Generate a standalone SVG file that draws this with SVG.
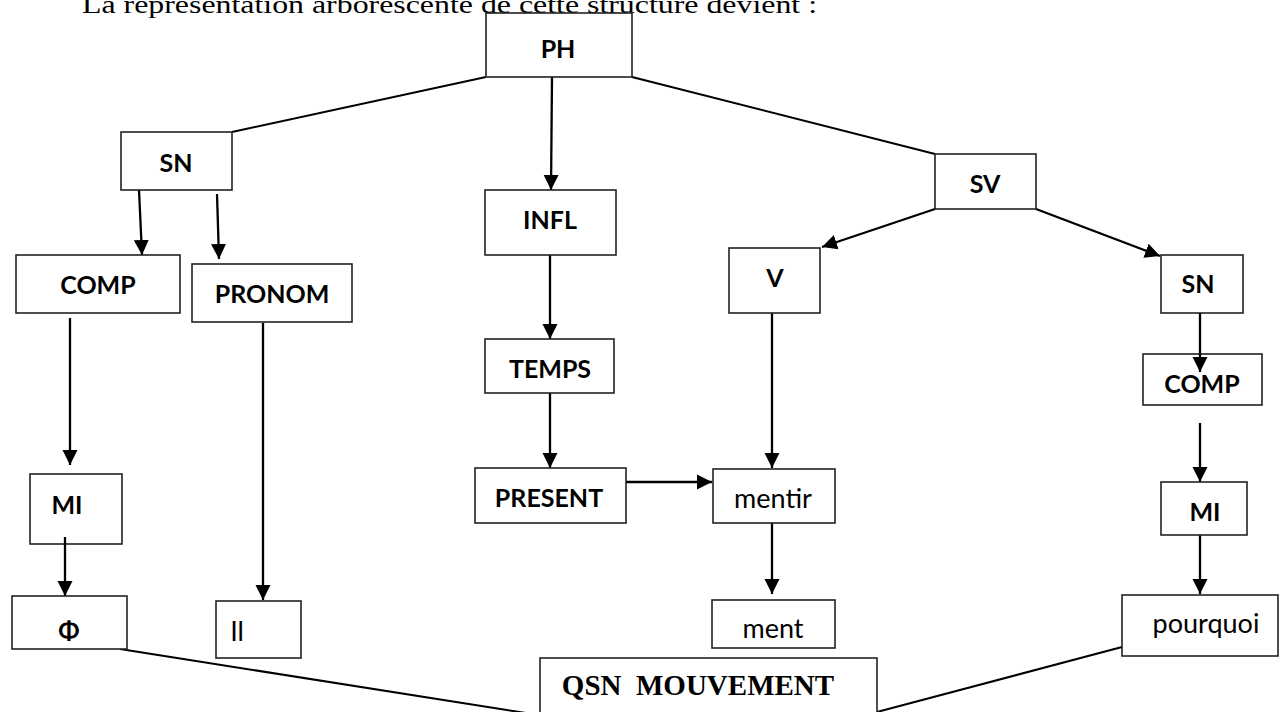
<svg xmlns="http://www.w3.org/2000/svg" width="1280" height="712" viewBox="0 0 1280 712">
<style>
.box{fill:#fff;stroke:#222;stroke-width:1.6}
.lbl{font-family:Lato,"Liberation Sans",sans-serif;font-weight:bold;font-size:25px;fill:#000;text-anchor:middle}
.reg{font-family:Lato,"Liberation Sans",sans-serif;font-size:27px;fill:#000;text-anchor:middle}
.ln{stroke:#000;stroke-width:2;fill:none}
.arr{stroke:#000;stroke-width:2.3;fill:none;marker-end:url(#ah)}
</style>
<defs>
<marker id="ah" markerUnits="userSpaceOnUse" markerWidth="16" markerHeight="16" viewBox="0 0 16 16" refX="15" refY="8" orient="auto">
<path d="M0,0.5 L15,8 L0,15.5 Z" fill="#000"/>
</marker>
</defs>
<rect width="1280" height="712" fill="#fff"/>
<text x="82" y="13" font-family="'Liberation Serif',serif" font-size="26" textLength="735" lengthAdjust="spacingAndGlyphs">La représentation arborescente de cette structure devient :</text>
<g id="connectors">
<line class="ln" x1="486" y1="77" x2="232" y2="132"/>
<line class="arr" x1="552" y1="77" x2="551" y2="190"/>
<line class="ln" x1="632" y1="77" x2="935" y2="154"/>
<line class="arr" x1="139" y1="190" x2="142" y2="255"/>
<line class="arr" x1="217" y1="194" x2="219" y2="259"/>
<line class="arr" x1="70" y1="318" x2="70" y2="465"/>
<line class="arr" x1="550" y1="255" x2="550" y2="339"/>
<line class="arr" x1="550" y1="393" x2="550" y2="468"/>
<line class="arr" x1="626" y1="482" x2="712" y2="482"/>
<line class="arr" x1="935" y1="209" x2="822" y2="247"/>
<line class="arr" x1="772" y1="313" x2="772" y2="468"/>
<line class="arr" x1="772" y1="523" x2="772" y2="594"/>
<line class="arr" x1="1036" y1="209" x2="1160" y2="256"/>
<line class="arr" x1="1200" y1="423" x2="1200" y2="482"/>
<line class="arr" x1="1200" y1="535" x2="1200" y2="594"/>
<line class="arr" x1="263" y1="323" x2="263" y2="600"/>
<line class="ln" x1="120" y1="649" x2="545" y2="716"/>
<line class="ln" x1="1122" y1="647" x2="877" y2="712"/>
</g>
<g id="PH"><rect class="box" x="486" y="13" width="146" height="64"/><text class="lbl" x="558" y="58" font-size="32">PH</text></g>
<g id="SN"><rect class="box" x="121" y="132" width="111" height="58"/><text class="lbl" x="176" y="172">SN</text></g>
<g id="INFL"><rect class="box" x="485" y="190" width="131" height="65"/><text class="lbl" x="550" y="229">INFL</text></g>
<g id="SV"><rect class="box" x="935" y="154" width="101" height="55"/><text class="lbl" x="985" y="193">SV</text></g>
<g id="COMP"><rect class="box" x="16" y="255" width="164" height="58"/><text class="lbl" x="98" y="294">COMP</text></g>
<g id="PRONOM"><rect class="box" x="192" y="264" width="160" height="58"/><text class="lbl" x="272" y="303">PRONOM</text></g>
<g id="V"><rect class="box" x="729" y="248" width="91" height="65"/><text class="lbl" x="775" y="287">V</text></g>
<g id="SN2"><rect class="box" x="1161" y="255" width="82" height="58"/><text class="lbl" x="1198" y="293">SN</text></g>
<g id="TEMPS"><rect class="box" x="485" y="339" width="129" height="54"/><text class="lbl" x="550" y="378">TEMPS</text></g>
<g id="COMP2"><rect class="box" x="1143" y="354" width="119" height="51"/><text class="lbl" x="1202" y="393">COMP</text></g>
<line class="arr" x1="1200" y1="313" x2="1200" y2="372"/>
<g id="MI"><rect class="box" x="30" y="474" width="92" height="70"/><text class="lbl" x="67" y="514">MI</text></g>
<line class="arr" x1="65" y1="537" x2="65" y2="596"/>
<g id="PRESENT"><rect class="box" x="475" y="468" width="151" height="55"/><text class="lbl" x="549" y="507">PRESENT</text></g>
<g id="mentir"><rect class="box" x="713" y="469" width="122" height="54"/><text class="reg" x="773" y="508">mentir</text></g>
<g id="MI2"><rect class="box" x="1161" y="482" width="86" height="53"/><text class="lbl" x="1205" y="521">MI</text></g>
<g id="PHI"><rect class="box" x="12" y="596" width="115" height="53"/><text class="lbl" x="69" y="640" font-family="'Noto Sans',sans-serif" font-size="26">Φ</text></g>
<g id="Il"><rect class="box" x="216" y="601" width="85" height="57"/><text class="reg" x="237" y="641" text-anchor="start">Il</text></g>
<g id="ment"><rect class="box" x="712" y="600" width="123" height="48"/><text class="reg" x="773" y="638">ment</text></g>
<g id="pourquoi"><rect class="box" x="1122" y="595" width="156" height="61"/><text class="reg" x="1206" y="633">pourquoi</text></g>
<g id="QSN"><rect class="box" x="540" y="658" width="337" height="70"/><text x="698" y="695" font-family="'Liberation Serif',serif" font-weight="bold" font-size="29" text-anchor="middle" xml:space="preserve">QSN  MOUVEMENT</text></g>
</svg>
